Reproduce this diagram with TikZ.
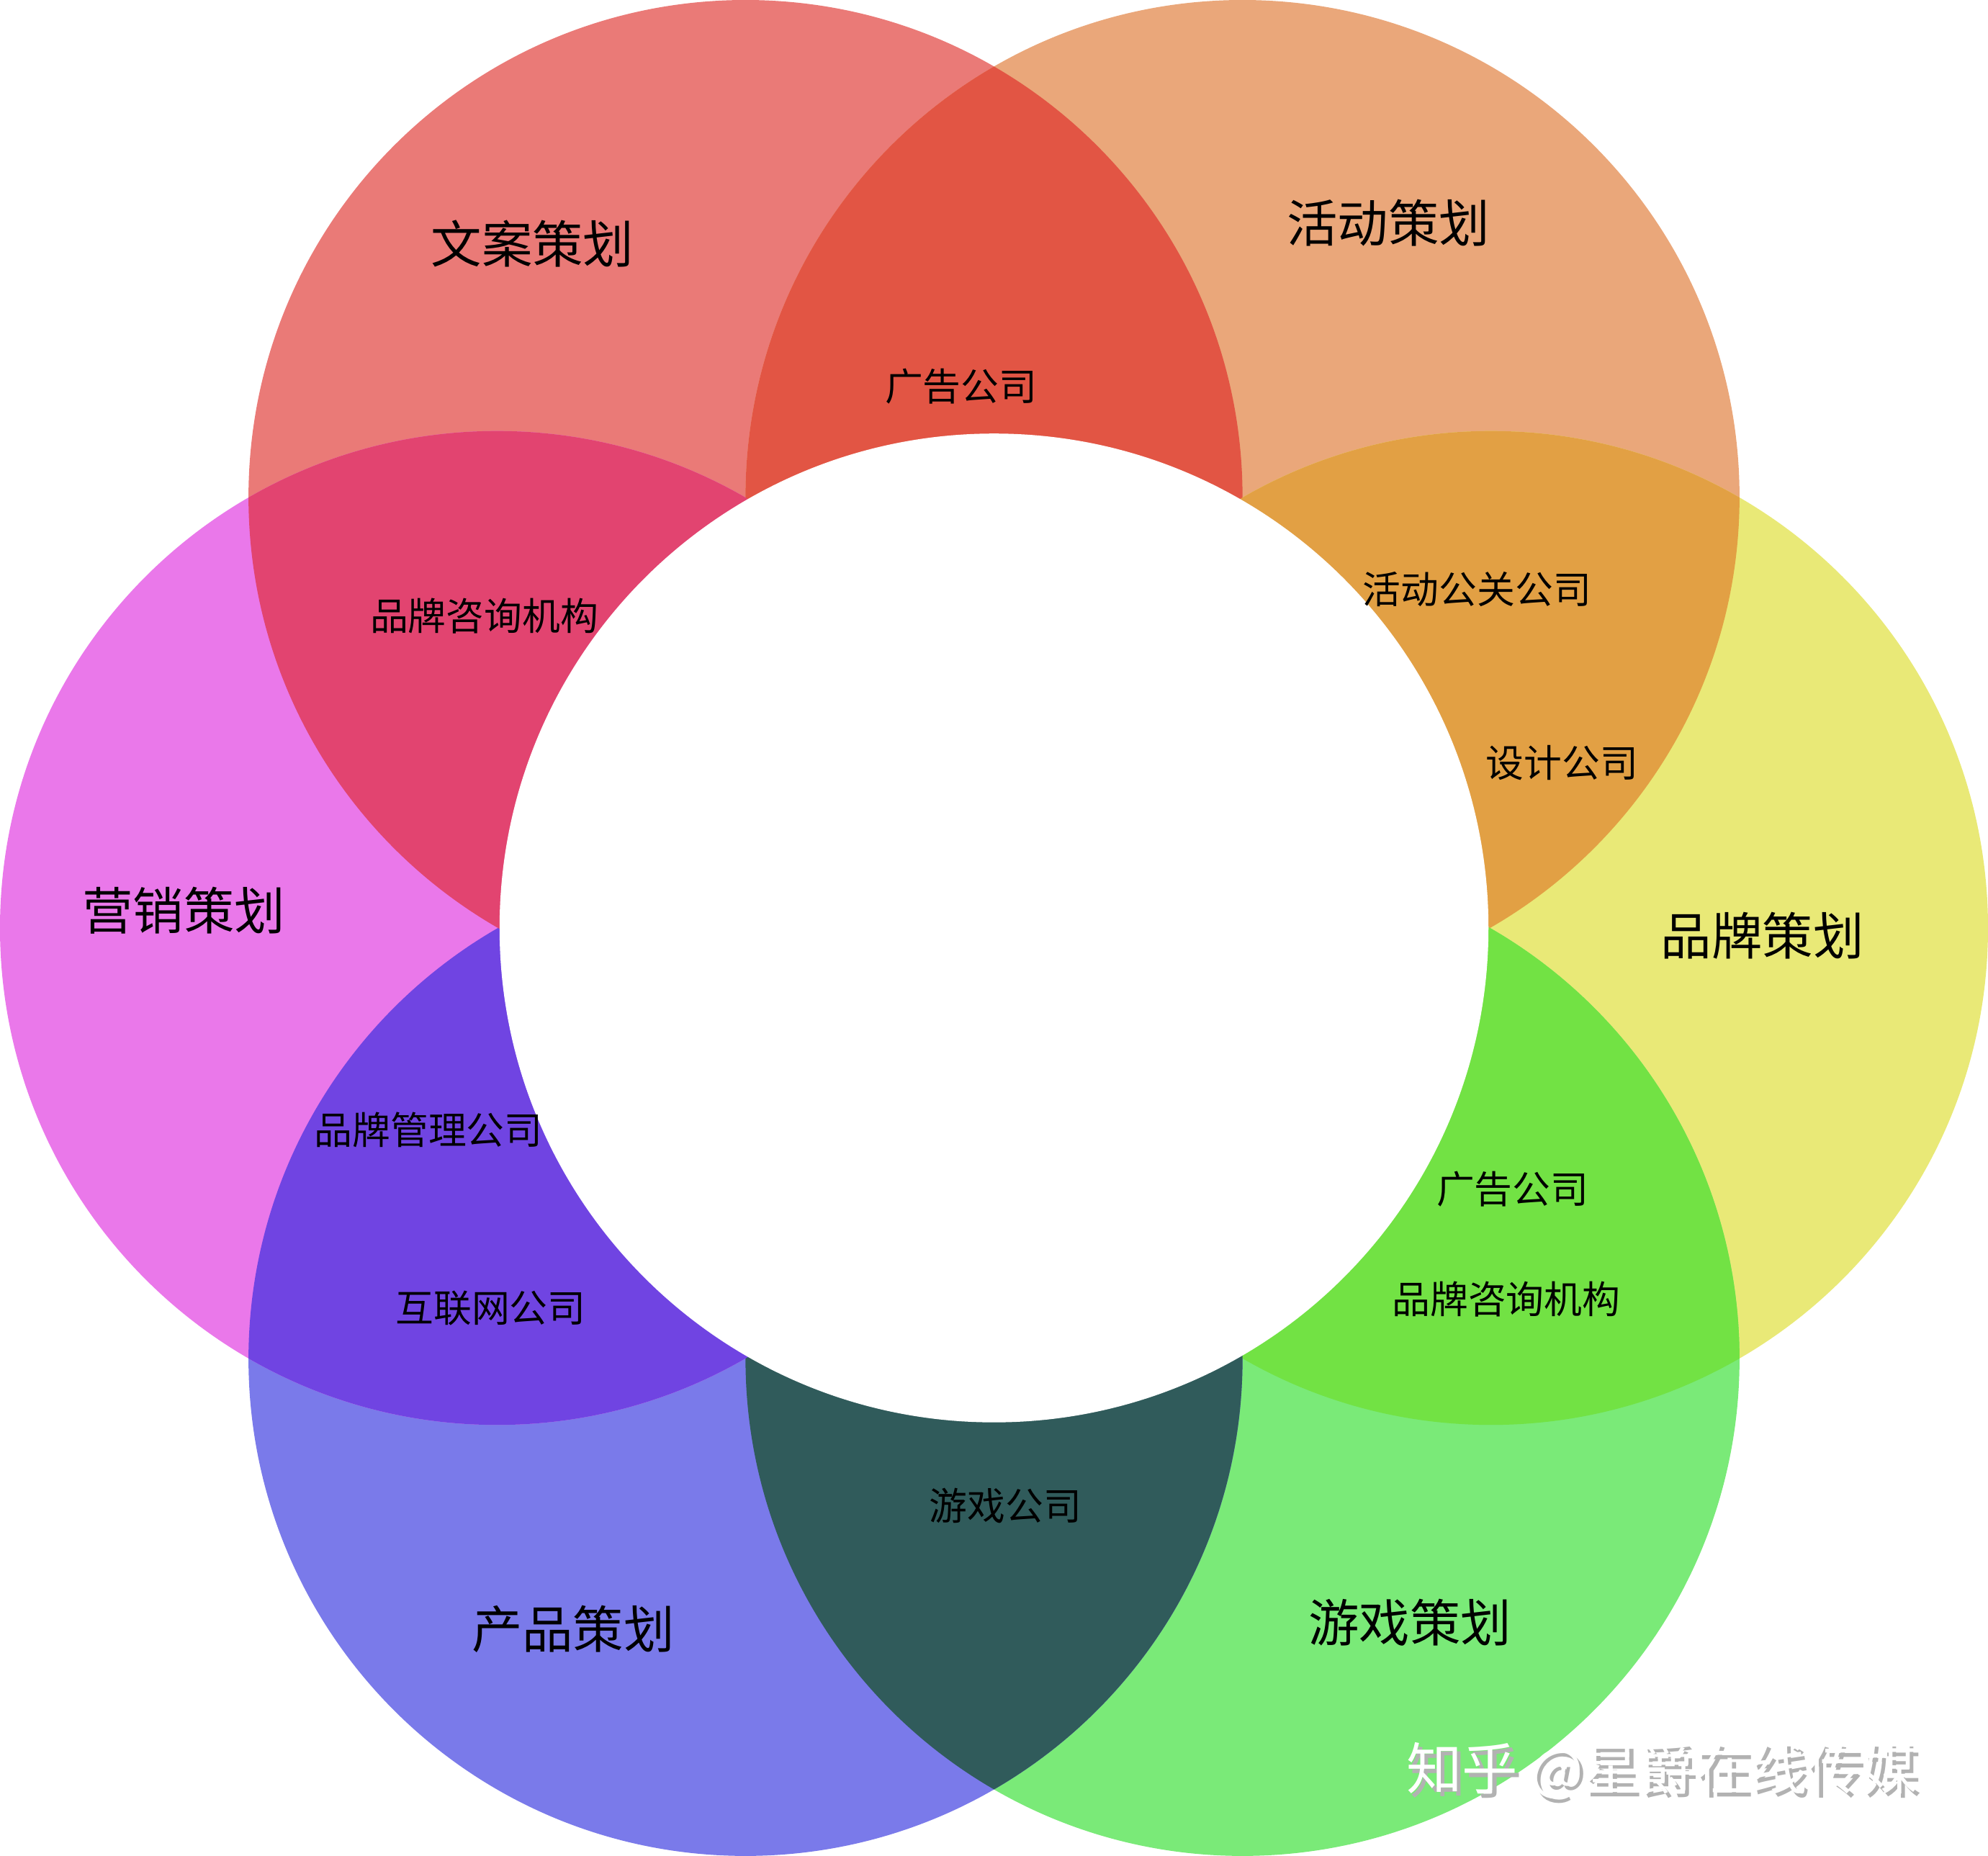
\documentclass[tikz,border=0pt]{standalone}
\usepackage{fontspec}
\setmainfont{Noto Sans CJK SC}
\definecolor{cWenan}{HTML}{EA7A77}
\definecolor{cHuodong}{HTML}{EAA77A}
\definecolor{cPinpai}{HTML}{E9E977}
\definecolor{cYouxi}{HTML}{7AEA78}
\definecolor{cChanpin}{HTML}{7A7AEA}
\definecolor{cYingxiao}{HTML}{EA78EA}
\definecolor{lWH}{HTML}{E25544}
\definecolor{lHP}{HTML}{E2A044}
\definecolor{lPY}{HTML}{72E244}
\definecolor{lYC}{HTML}{305B5B}
\definecolor{lCY}{HTML}{7044E2}
\definecolor{lYW}{HTML}{E24470}
\tikzset{
  biglabel/.style={font=\fontsize{40}{46}\selectfont, text=black},
  smalllabel/.style={font=\fontsize{30}{34}\selectfont, text=black}
}
\begin{document}
\begin{tikzpicture}[x=1pt,y=-1pt]
\useasboundingbox (0,0) rectangle (1568,1464);
\def\R{392}
% circle centres
\coordinate (wenan) at (588,392);
\coordinate (huodong) at (980,392);
\coordinate (pinpai) at (1176,732);
\coordinate (youxi) at (980,1072);
\coordinate (chanpin) at (588,1072);
\coordinate (yingxiao) at (392,732);
\coordinate (mid) at (784,732);
% circles
\foreach \c/\col in {wenan/cWenan,huodong/cHuodong,pinpai/cPinpai,youxi/cYouxi,chanpin/cChanpin,yingxiao/cYingxiao}
  \fill[\col] (\c) circle (\R);
% lenses
\foreach \a/\b/\col in {wenan/huodong/lWH,huodong/pinpai/lHP,pinpai/youxi/lPY,youxi/chanpin/lYC,chanpin/yingxiao/lCY,yingxiao/wenan/lYW}{
  \begin{scope}
    \clip (\a) circle (\R);
    \fill[\col] (\b) circle (\R);
  \end{scope}
}
% centre hole
\fill[white] (mid) circle (390);
% big labels
\node[biglabel] (tWenan) at (420,192) {文案策划};
\node[biglabel] (tHuodong) at (1095,176) {活动策划};
\node[biglabel] (tPinpai) at (1390,738) {品牌策划};
\node[biglabel] (tYouxi) at (1112,1280) {游戏策划};
\node[biglabel] (tChanpin) at (452,1285) {产品策划};
\node[biglabel] (tYingxiao) at (145,718) {营销策划};
% lens labels
\node[smalllabel] (sGuanggao) at (758,305) {广告公司};
\node[smalllabel] (sGongguan) at (1165,465) {活动公关公司};
\node[smalllabel] (sSheji) at (1232,602) {设计公司};
\node[smalllabel] (sGuanggaoB) at (1193,938) {广告公司};
\node[smalllabel] (sZixunB) at (1188,1025) {品牌咨询机构};
\node[smalllabel] (sYouxi) at (793,1188) {游戏公司};
\node[smalllabel] (sGuanli) at (338,891) {品牌管理公司};
\node[smalllabel] (sHulian) at (387,1032) {互联网公司};
\node[smalllabel] (sZixun) at (382,486) {品牌咨询机构};
% watermark
\node[font=\fontsize{44}{48}\selectfont, text=gray!60] (mark) at (1314,1400) {知乎 @星爵在线传媒};
\node[font=\fontsize{44}{48}\selectfont, text=white] (markB) at (1311,1397) {知乎 @星爵在线传媒};
\end{tikzpicture}
\end{document}
